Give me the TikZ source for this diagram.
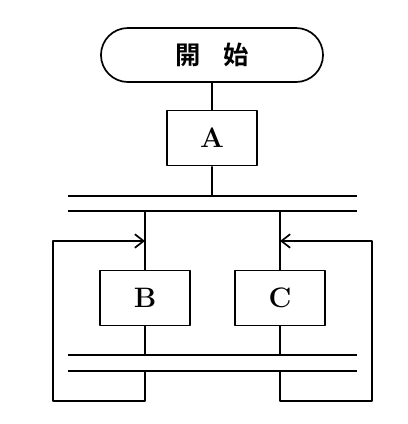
\documentclass[tikz,border=0pt]{standalone}
\usepackage{fontspec}
\newfontfamily\jpfont{Noto Sans CJK JP}[BoldFont={Noto Sans CJK JP Bold}]
\usetikzlibrary{shapes.misc,arrows.meta}
\begin{document}
\begin{tikzpicture}[x=0.025cm, y=-0.025cm, line join=round, >={Straight Barb[length=2.2mm,width=3.4mm]},
  font=\fontsize{20}{24}\selectfont\bfseries,
  term/.style={draw, rounded rectangle, line width=1.2pt, minimum width=5.55cm, minimum height=1.35cm, inner sep=0pt},
  proc/.style={draw, rectangle, line width=1.2pt, minimum width=2.25cm, minimum height=1.37cm, inner sep=0pt},
  flow/.style={line width=1.2pt},
  bar/.style={line width=1.7pt}]
  \useasboundingbox (0,0) rectangle (408,424);
  \node[term] (start) at (212,55) {\jpfont\fontsize{18}{22}\selectfont\bfseries 開\hspace{0.9em}始};
  \node[proc] (A) at (212,138) {A};
  \node[proc] (B) at (145,298) {B};
  \node[proc] (C) at (280,298) {C};
  % parallel bars
  \path (68,196)coordinate(t1l) (357,196)coordinate(t1r) (68,211)coordinate(t2l) (357,211)coordinate(t2r)
        (68,355)coordinate(b1l) (357,355)coordinate(b1r) (68,371)coordinate(b2l) (357,371)coordinate(b2r);
  \foreach \l/\r in {t1l/t1r,t2l/t2r,b1l/b1r,b2l/b2r}
    \draw[bar] (\l)--(\r);
  % loop corners
  \path (53,401)coordinate(lbot) (53,241)coordinate(ltop) (372,401)coordinate(rbot) (372,241)coordinate(rtop);
  \draw[flow] (start)--(A) (A.south)--(A.south|-t1l);
  \draw[flow] (B.north|-t2l)--(B) (C.north|-t2l)--(C);
  \draw[flow] (B.south)--(B.south|-b1l) (C.south)--(C.south|-b1l);
  \draw[flow,->] (B.south|-b2l)|-(lbot)--(ltop)--(ltop-|B.north);
  \draw[flow,->] (C.south|-b2l)|-(rbot)--(rtop)--(rtop-|C.north);
\end{tikzpicture}
\end{document}
